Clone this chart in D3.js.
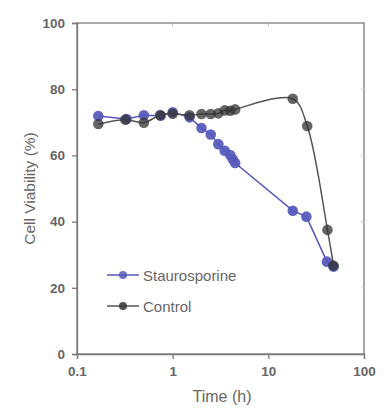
<!DOCTYPE html>
<html><head><meta charset="utf-8">
<script src="https://cdn.jsdelivr.net/npm/d3@7"></script>
<style>body{margin:0;background:#fff}svg{display:block;font-family:"Liberation Sans",Arial,sans-serif}</style>
</head><body><svg id="c" width="392" height="415"></svg>
<script>
const stauroTime = [0.167,0.33,0.5,0.75,1.0,1.5,2.0,2.5,3.0,3.5,4.0,4.25,4.5,18,25,41,48];
const stauroVal  = [71.9,71.0,72.1,72.0,73.0,71.5,68.3,66.3,63.4,61.4,60.1,58.8,57.7,43.3,41.5,27.9,26.4];
const ctrlTime = [0.167,0.32,0.5,0.74,1.0,1.5,2.0,2.5,3.0,3.5,4.0,4.5,18,25.5,41.5,48];
const ctrlVal  = [69.5,70.8,69.9,72.2,72.6,72.1,72.5,72.5,72.7,73.6,73.5,73.9,77.1,68.9,37.5,26.7];
const xTicks = [0.1,1,10,100];
const yTicks = [0,20,40,60,80,100];
const seriesNames = ["Staurosporine","Control"];

const svg = d3.select("#c");
const L=77,R=364,T=23,B=354;
const x = d3.scaleLog().domain([0.1,100]).range([L,R]);
const y = d3.scaleLinear().domain([0,100]).range([B,T]);
const axisCol="#7a7a7a", txtCol="#666";

// frame
svg.append("rect").attr("x",L).attr("y",T).attr("width",R-L).attr("height",B-T)
  .attr("fill","none").attr("stroke",axisCol).attr("stroke-width",1.3);
// inner mirrored ticks
svg.append("g").selectAll("line").data(xTicks.slice(1,3)).join("line")
  .attr("x1",d=>x(d)).attr("x2",d=>x(d)).attr("y1",T).attr("y2",T+3).attr("stroke","#bbb");
svg.append("g").selectAll("line").data(yTicks.slice(1,5)).join("line")
  .attr("x1",R).attr("x2",R-3).attr("y1",d=>y(d)).attr("y2",d=>y(d)).attr("stroke","#ccc");

const xa = svg.append("g").attr("transform",`translate(0,${B})`)
  .call(d3.axisBottom(x).tickValues(xTicks).tickFormat(d3.format("")).tickSize(5).tickPadding(7));
const ya = svg.append("g").attr("transform",`translate(${L},0)`)
  .call(d3.axisLeft(y).tickValues(yTicks).tickSize(5).tickPadding(7));
[xa,ya].forEach(a=>{
  a.select(".domain").attr("stroke",axisCol).attr("stroke-width",1.3);
  a.selectAll(".tick line").attr("stroke",axisCol).attr("stroke-width",1.3);
  a.selectAll(".tick text").attr("fill",txtCol).attr("font-size",13.5).attr("font-weight","bold")
   .attr("font-family","'Liberation Sans',Arial,sans-serif");
});

svg.append("text").attr("x",222).attr("y",402).attr("text-anchor","middle")
  .attr("fill",txtCol).attr("font-size",16).text("Time (h)");
svg.append("text").attr("transform",`translate(35,${(T+B)/2}) rotate(-90)`).attr("text-anchor","middle")
  .attr("fill",txtCol).attr("font-size",15.5).text("Cell Viability (%)");

const blue="#5558bb", dark="#333";
const sData = stauroTime.map((t,i)=>[t,stauroVal[i]]);
const cData = ctrlTime.map((t,i)=>[t,ctrlVal[i]]);

svg.append("path").datum(sData).attr("fill","none").attr("stroke",blue).attr("stroke-width",1.5)
  .attr("d",d3.line().x(d=>x(d[0])).y(d=>y(d[1])));
svg.append("g").selectAll("circle").data(sData).join("circle")
  .attr("cx",d=>x(d[0])).attr("cy",d=>y(d[1])).attr("r",5.3).attr("fill",blue).attr("fill-opacity",0.92);

svg.append("path").datum(cData).attr("fill","none").attr("stroke","#555").attr("stroke-width",1.5)
  .attr("d",d3.line().curve(d3.curveCatmullRom.alpha(0.5)).x(d=>x(d[0])).y(d=>y(d[1])));
svg.append("g").selectAll("circle").data(cData).join("circle")
  .attr("cx",d=>x(d[0])).attr("cy",d=>y(d[1])).attr("r",5.3).attr("fill",dark).attr("fill-opacity",0.75);

// legend
const leg = svg.append("g");
const legY=[275,306], cols=[blue,"#555"], mcols=[blue,dark];
seriesNames.forEach((n,i)=>{
  leg.append("line").attr("x1",107).attr("x2",139).attr("y1",legY[i]).attr("y2",legY[i])
    .attr("stroke",cols[i]).attr("stroke-width",1.5);
  leg.append("circle").attr("cx",123).attr("cy",legY[i]).attr("r",4).attr("fill",mcols[i]).attr("fill-opacity",0.85);
  leg.append("text").attr("x",143).attr("y",legY[i]+5.5).attr("fill",txtCol).attr("font-size",15).text(n);
});
</script></body></html>
